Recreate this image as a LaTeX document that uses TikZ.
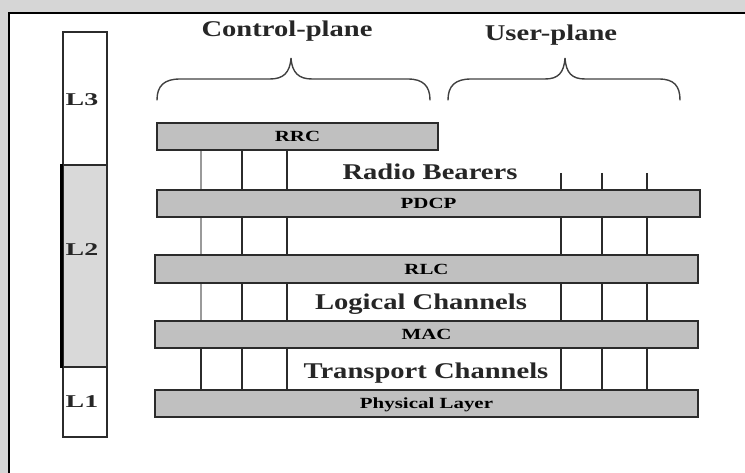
\documentclass[tikz,border=0pt]{standalone}
\usepackage{fontspec}
\setmainfont{Liberation Serif}
\usepackage{graphicx}
\usetikzlibrary{backgrounds}
\definecolor{bandgray}{HTML}{D6D6D6}
\definecolor{barfill}{HTML}{C0C0C0}
\definecolor{lfill}{HTML}{D9D9D9}
\definecolor{edge}{HTML}{2B2B2B}
\definecolor{softline}{HTML}{9A9A9A}
\newcommand\widetxt[2]{\scalebox{#1}[1]{#2}}
\begin{document}
\begin{tikzpicture}[x=1pt,y=-1pt,
  bar/.style={draw=edge, line width=1.8pt, fill=barfill, inner sep=0pt,
    text depth=0pt, font=\bfseries\fontsize{15.5}{15.5}\selectfont},
  bigtxt/.style={font=\bfseries\fontsize{22.5}{22.5}\selectfont, inner sep=0pt, anchor=base, text=black!85},
  laytxt/.style={font=\bfseries\fontsize{18}{18}\selectfont, inner sep=0pt, anchor=base, text=black!85},
  colbox/.style={draw=edge, line width=1.1pt, minimum width=44pt, inner sep=0pt},
  link/.style={line width=1.4pt, draw=edge},
  softlink/.style={line width=1.4pt, draw=softline},
  brace/.style={line width=1.4pt, draw=black!75, line cap=round}]
\useasboundingbox (0,0) rectangle (745,473);

% page frame: grey margin band with a dark rule
\fill[bandgray] (0,0) rectangle (745,12);
\fill[bandgray] (0,0) rectangle (8,473);
\draw[line width=2pt, black] (8,13) -- (745,13);
\draw[line width=2pt, black] (9,13) -- (9,473);

% layer column
\node[colbox, minimum height=133pt] (l3) at (85,98.5) {};
\node[colbox, minimum height=202pt, fill=lfill] (l2) at (85,266) {};
\node[colbox, minimum height=70pt] (l1) at (85,402) {};
\draw[line width=3pt, black] ([xshift=-1pt]l2.north west) -- ([xshift=-1pt]l2.south west);
\node[laytxt] (l3t) at (82,106) {\widetxt{1.55}{L3}};
\node[laytxt] (l2t) at (82,256) {\widetxt{1.55}{L2}};
\node[laytxt] (l1t) at (82,407) {\widetxt{1.55}{L1}};

% protocol bars
\node[bar, minimum width=281pt, minimum height=27pt] (rrc) at (297.5,136.5) {\widetxt{1.35}{RRC}};
\node[bar, minimum width=543pt, minimum height=27pt] (pdcp) at (428.5,203.5) {\widetxt{1.35}{PDCP}};
\node[bar, minimum width=543pt, minimum height=28pt] (rlc) at (426.5,269) {\widetxt{1.35}{RLC}};
\node[bar, minimum width=543pt, minimum height=27pt] (mac) at (426.5,334.5) {\widetxt{1.35}{MAC}};
\node[bar, minimum width=543pt, minimum height=27pt] (phy) at (426.5,403.5) {\widetxt{1.35}{Physical Layer}};

% channel labels
\node[bigtxt] (rb) at (430,180) {\widetxt{1.27}{Radio Bearers}};
\node[bigtxt] (lc) at (421,309) {\widetxt{1.27}{Logical Channels}};
\node[bigtxt] (tc) at (426,378) {\widetxt{1.27}{Transport Channels}};
\node[bigtxt] (cp) at (287,37) {\widetxt{1.27}{Control-plane}};
\node[bigtxt] (up) at (551,41) {\widetxt{1.27}{User-plane}};

% channel columns
\coordinate (c1) at (201,0);
\coordinate (c2) at (242,0);
\coordinate (c3) at (287,0);
\coordinate (u1) at (561,173);
\coordinate (u2) at (602,173);
\coordinate (u3) at (647,173);
\begin{scope}[on background layer]
  \draw[softlink] (rrc.south -| c1) -- (pdcp.north -| c1);
  \draw[softlink] (pdcp.south -| c1) -- (rlc.north -| c1);
  \draw[softlink] (rlc.south -| c1) -- (mac.north -| c1);
  \draw[link] (mac.south -| c1) -- (phy.north -| c1);
  \foreach \c in {c2,c3} {
    \draw[link] (rrc.south -| \c) -- (pdcp.north -| \c);
    \draw[link] (pdcp.south -| \c) -- (rlc.north -| \c);
    \draw[link] (rlc.south -| \c) -- (mac.north -| \c);
    \draw[link] (mac.south -| \c) -- (phy.north -| \c);
  }
  \foreach \c in {u1,u2,u3} {
    \draw[link] (\c) -- (pdcp.north -| \c);
    \draw[link] (pdcp.south -| \c) -- (rlc.north -| \c);
    \draw[link] (rlc.south -| \c) -- (mac.north -| \c);
    \draw[link] (mac.south -| \c) -- (phy.north -| \c);
  }
\end{scope}

% braces over the two planes
\draw[brace] (157,100) .. controls (157,86) and (164,79) .. (180,79) -- (270,79)
  .. controls (283,79) and (290,73) .. (291,58)
  .. controls (292,73) and (299,79) .. (312,79) -- (408,79)
  .. controls (423,79) and (430,86) .. (430,100);
\draw[brace] (448,100) .. controls (448,86) and (455,79) .. (471,79) -- (545,79)
  .. controls (558,79) and (564,73) .. (565,58)
  .. controls (566,73) and (572,79) .. (585,79) -- (659,79)
  .. controls (674,79) and (680,86) .. (680,100);
\end{tikzpicture}
\end{document}
